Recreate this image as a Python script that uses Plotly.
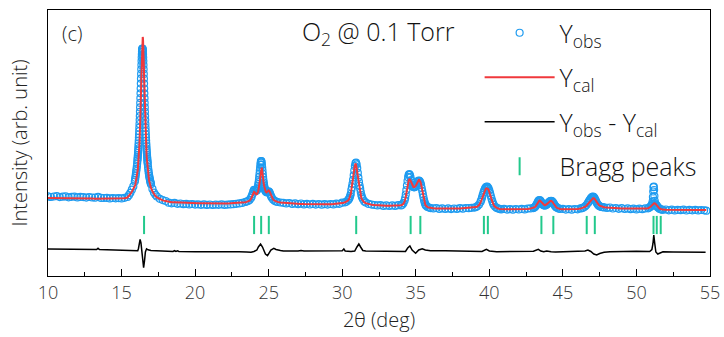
import plotly.graph_objects as go

# ---------------- data ----------------
two_theta = [
    # 10.0 - 15.6
    10.0, 10.2, 10.4, 10.6, 10.8, 11.0, 11.2, 11.4, 11.6, 11.8,
    12.0, 12.2, 12.4, 12.6, 12.8, 13.0, 13.2, 13.4, 13.6, 13.8,
    14.0, 14.2, 14.4, 14.6, 14.8, 15.0, 15.2, 15.4, 15.5, 15.6,
    # 15.7 - 16.06
    15.7, 15.8, 15.90, 15.92, 15.94, 15.96, 15.98, 16.00, 16.02, 16.04, 16.06,
    # 16.08 - 16.78
    16.08, 16.09, 16.10, 16.11, 16.12, 16.13, 16.14, 16.15, 16.16, 16.17,
    16.18, 16.19, 16.20, 16.21, 16.22, 16.23, 16.24, 16.25, 16.26, 16.27,
    16.28, 16.29, 16.30, 16.31, 16.32, 16.33, 16.34, 16.35, 16.36, 16.37,
    16.38, 16.39, 16.40, 16.41, 16.42, 16.43, 16.44, 16.45, 16.46, 16.47,
    16.48, 16.49, 16.50, 16.51, 16.52, 16.53, 16.54, 16.55, 16.56, 16.57,
    16.58, 16.59, 16.60, 16.61, 16.62, 16.63, 16.64, 16.65, 16.66, 16.67,
    16.68, 16.69, 16.70, 16.71, 16.72, 16.73, 16.74, 16.75, 16.76, 16.77,
    16.78,
    # 16.80 - 18.0
    16.80, 16.82, 16.84, 16.86, 16.88, 16.90, 16.92, 16.94, 16.96, 16.98,
    17.00, 17.1, 17.2, 17.3, 17.4, 17.6, 17.8, 18.0,
    # 18.2 - 23.2
    18.2, 18.4, 18.6, 18.8, 19.0, 19.2, 19.4, 19.6, 19.8, 20.0,
    20.2, 20.4, 20.6, 20.8, 21.0, 21.2, 21.4, 21.6, 21.8, 22.0,
    22.2, 22.4, 22.6, 22.8, 23.0, 23.2,
    # 23.4 - 26.0
    23.40, 23.50, 23.60, 23.70, 23.80, 23.85, 23.90, 23.95, 24.00, 24.05,
    24.10, 24.15, 24.20,
    24.22, 24.24, 24.26, 24.28, 24.30, 24.32, 24.34, 24.36, 24.38, 24.40,
    24.42, 24.44, 24.46, 24.48, 24.50, 24.52, 24.54, 24.56, 24.58, 24.60,
    24.62, 24.64, 24.66, 24.68, 24.70, 24.72, 24.74, 24.76, 24.78, 24.80,
    24.85, 24.90, 24.95, 25.00, 25.05, 25.10, 25.15, 25.20, 25.30, 25.40,
    25.50, 25.60, 25.80, 26.00,
    # 26.2 - 30.0
    26.2, 26.4, 26.6, 26.8, 27.0, 27.2, 27.4, 27.6, 27.8, 28.0,
    28.2, 28.4, 28.6, 28.8, 29.0, 29.2, 29.4, 29.6, 29.8, 30.0,
    # 30.2 - 32.4
    30.20, 30.30, 30.40, 30.46,
    30.50, 30.54, 30.58, 30.62, 30.66, 30.70, 30.74, 30.78, 30.82, 30.86,
    30.90, 30.94, 30.98, 31.02, 31.06, 31.10, 31.14, 31.18, 31.22, 31.26,
    31.30, 31.34,
    31.40, 31.50, 31.60, 31.80, 32.00, 32.20, 32.40,
    # 32.6 - 33.8
    32.6, 32.8, 33.0, 33.2, 33.4, 33.6, 33.8,
    # 34.0 - 36.2
    34.00, 34.08, 34.16,
    34.24, 34.28, 34.32, 34.36, 34.40, 34.44, 34.48, 34.52, 34.56, 34.60,
    34.64, 34.68, 34.72, 34.76, 34.80, 34.84, 34.88, 34.92, 34.96, 35.00,
    35.04, 35.08, 35.12, 35.16, 35.20, 35.24, 35.28, 35.32, 35.36, 35.40,
    35.44, 35.48, 35.52, 35.56, 35.60, 35.64, 35.68, 35.72,
    35.80, 35.90, 36.00, 36.20,
    # 36.4 - 38.8
    36.4, 36.6, 36.8, 37.0, 37.2, 37.4, 37.6, 37.8, 38.0, 38.2, 38.4, 38.6, 38.8,
    # 39.0 - 40.7
    39.00, 39.10, 39.20, 39.30, 39.40, 39.45, 39.50, 39.55, 39.60, 39.65,
    39.70, 39.75, 39.80, 39.85, 39.90, 39.95, 40.00, 40.05, 40.10, 40.15,
    40.20, 40.25, 40.30, 40.40, 40.50, 40.60, 40.70,
    # 40.8 - 42.8
    40.8, 41.0, 41.2, 41.4, 41.6, 41.8, 42.0, 42.2, 42.4, 42.6, 42.8,
    # 43.0 - 44.8
    43.00, 43.05, 43.10, 43.15, 43.20, 43.25, 43.30, 43.35, 43.40, 43.45,
    43.50, 43.55, 43.60, 43.65, 43.70, 43.75, 43.80, 43.85, 43.90, 43.95,
    44.00, 44.05, 44.10, 44.15, 44.20, 44.25, 44.30, 44.35, 44.40, 44.45,
    44.50, 44.55, 44.60, 44.70, 44.80,
    # 45.0 - 46.2
    45.0, 45.2, 45.4, 45.6, 45.8, 46.0, 46.2,
    # 46.3 - 47.8
    46.30, 46.40, 46.50, 46.60, 46.70, 46.75, 46.80, 46.85, 46.90, 46.95,
    47.00, 47.05, 47.10, 47.15, 47.20, 47.25, 47.30, 47.35, 47.40, 47.45,
    47.50, 47.60, 47.70, 47.80,
    # 48.0 - 50.6
    48.0, 48.2, 48.4, 48.6, 48.8, 49.0, 49.2, 49.4, 49.6, 49.8, 50.0, 50.2, 50.4, 50.6,
    # 50.8 - 51.8
    50.80, 50.88, 50.96, 51.00, 51.04, 51.08, 51.10, 51.12, 51.14, 51.16,
    51.18, 51.20, 51.22, 51.24, 51.28, 51.32, 51.36, 51.40, 51.44, 51.48,
    51.56, 51.64, 51.72, 51.80,
    # 52.0 - 54.75
    52.0, 52.2, 52.4, 52.6, 52.8, 53.0, 53.2, 53.4, 53.6, 53.8,
    54.0, 54.2, 54.4, 54.6, 54.75,
]

y_obs = [
    796, 790, 795, 799, 789, 793, 796, 787, 792, 794,
    786, 791, 789, 784, 790, 785, 783, 792, 781, 780,
    782, 776, 780, 777, 779, 776, 782, 790, 808, 832,
    863, 896, 945, 962, 982, 1004, 1027, 1049, 1072, 1097, 1126,
    1153, 1171, 1189, 1209, 1230, 1252, 1275, 1300, 1326, 1354,
    1384, 1415, 1448, 1483, 1520, 1559, 1599, 1642, 1686, 1731,
    1778, 1827, 1875, 1924, 1973, 2021, 2067, 2110, 2150, 2186,
    2217, 2242, 2260, 2271, 2275, 2271, 2260, 2242, 2217, 2186,
    2150, 2110, 2067, 2021, 1973, 1924, 1875, 1827, 1778, 1731,
    1686, 1642, 1599, 1559, 1520, 1483, 1448, 1415, 1384, 1354,
    1326, 1300, 1275, 1252, 1230, 1209, 1189, 1171, 1153, 1137,
    1121,
    1090, 1064, 1041, 1020, 1001, 984, 969, 955, 942, 930,
    918, 871, 834, 812, 795, 772, 759, 750,
    733, 727, 731, 722, 725, 718, 722, 716, 720, 714,
    717, 712, 716, 711, 715, 710, 714, 712, 717, 711,
    714, 716, 718, 722, 726, 731,
    740, 744, 750, 761, 781, 798, 820, 845, 861, 860,
    852, 849, 857,
    865, 874, 885, 900, 918, 939, 963, 991, 1021, 1053,
    1085, 1114, 1136, 1149, 1149, 1136, 1114, 1085, 1053, 1020,
    989, 961, 937, 916, 898, 882, 870, 860, 852, 845,
    837, 838, 843, 847, 839, 822, 802, 786, 764, 752,
    745, 740, 735, 732,
    726, 730, 721, 726, 718, 725, 716, 722, 715, 721,
    714, 720, 713, 719, 714, 720, 716, 723, 722, 733,
    737, 744, 758, 770,
    782, 799, 820, 860, 888, 922, 962, 1007, 1055, 1098,
    1127, 1133, 1115, 1078, 1031, 984, 941, 904, 873, 839,
    809, 789,
    769, 746, 734, 721, 714, 710, 706,
    709, 701, 706, 700, 706, 701, 708,
    706, 713, 728,
    755, 780, 815, 858, 905, 950, 988, 1012, 1020, 1010,
    988, 960, 933, 912, 898, 890, 887, 888, 892, 900,
    910, 924, 938, 948, 953, 952, 945, 930, 908, 880,
    850, 818, 788, 760, 738, 720, 708, 699,
    690, 684, 679, 676,
    680, 671, 677, 670, 676, 669, 675, 671, 678, 673, 680, 678, 682,
    684, 690, 699, 715, 741, 760, 783, 809, 833, 855,
    872, 884, 891, 893, 887, 874, 854, 829, 801, 773,
    748, 727, 711, 692, 681, 675, 671,
    666, 671, 664, 669, 663, 670, 665, 671, 666, 674, 676,
    679, 684, 690, 699, 711, 726, 741, 753, 759, 756,
    746, 733, 721, 712, 707, 705, 706, 709, 714, 721,
    729, 737, 744, 749, 751, 749, 742, 731, 718, 706,
    696, 688, 682, 676, 671,
    672, 664, 669, 663, 670, 667, 676,
    678, 685, 695, 710, 729, 741, 753, 765, 776, 785,
    791, 793, 789, 779, 764, 748, 732, 719, 709, 702,
    697, 691, 688, 686,
    681, 685, 675, 680, 672, 678, 670, 676, 668, 674, 666, 673, 668, 676,
    677, 684, 693, 701, 709, 722, 745, 790, 845, 888,
    893, 860, 800, 752, 725, 714, 706, 698, 690, 683,
    673, 667, 664, 662,
    665, 657, 663, 656, 662, 658, 664, 655, 661, 657,
    662, 656, 660, 657, 653,
]

y_cal = [
    781, 781, 780, 780, 779, 779, 778, 778, 777, 777,
    776, 776, 775, 775, 774, 774, 773, 773, 772, 772,
    771, 771, 771, 771, 772, 774, 777, 785, 800, 820,
    843, 866, 895, 905, 916, 930, 946, 960, 976, 994, 1015,
    1033, 1046, 1060, 1074, 1090, 1107, 1125, 1144, 1165, 1187,
    1211, 1237, 1265, 1295, 1327, 1362, 1399, 1439, 1482, 1528,
    1578, 1630, 1685, 1744, 1805, 1868, 1934, 1999, 2065, 2129,
    2190, 2245, 2294, 2335, 2365, 2384, 2390, 2384, 2365, 2335,
    2294, 2245, 2190, 2129, 2065, 1999, 1934, 1868, 1805, 1744,
    1685, 1630, 1578, 1528, 1482, 1439, 1399, 1362, 1327, 1295,
    1265, 1237, 1211, 1187, 1165, 1144, 1125, 1107, 1090, 1074,
    1060,
    1030, 1007, 986, 968, 951, 937, 923, 911, 900, 890,
    880, 846, 819, 800, 786, 767, 756, 749,
    740, 738, 737, 735, 734, 733, 732, 731, 730, 729,
    728, 728, 727, 727, 726, 726, 726, 726, 726, 726,
    726, 727, 728, 730, 732, 735,
    738, 741, 746, 754, 770, 784, 804, 826, 840, 836,
    824, 817, 819,
    823, 828, 835, 844, 854, 868, 884, 903, 925, 950,
    977, 1007, 1035, 1059, 1076, 1082, 1077, 1060, 1037, 1009,
    981, 954, 930, 908, 891, 876, 864, 854, 847, 842,
    836, 841, 850, 856, 850, 831, 809, 790, 766, 753,
    746, 741, 736, 733,
    730, 727, 725, 723, 722, 721, 720, 719, 719, 718,
    718, 717, 717, 717, 717, 718, 719, 721, 724, 729,
    737, 743, 756, 767,
    779, 796, 819, 860, 891, 929, 974, 1024, 1073, 1112,
    1126, 1112, 1073, 1024, 974, 929, 891, 860, 819, 796,
    779, 767,
    751, 736, 729, 719, 713, 710, 707,
    705, 704, 703, 703, 703, 704, 706,
    708, 712, 722,
    743, 762, 790, 826, 866, 905, 936, 957, 967, 966,
    955, 938, 920, 905, 895, 890, 889, 890, 895, 903,
    915, 930, 945, 955, 960, 961, 955, 940, 917, 887,
    853, 818, 785, 756, 733, 716, 705, 697,
    689, 684, 680, 677,
    676, 675, 675, 674, 674, 674, 674, 675, 676, 677, 679, 681, 683,
    685, 689, 696, 710, 735, 753, 775, 800, 823, 843,
    858, 869, 876, 877, 872, 860, 842, 818, 792, 766,
    742, 723, 708, 690, 680, 674, 671,
    669, 668, 667, 667, 667, 667, 667, 668, 669, 671, 675,
    680, 683, 688, 696, 707, 721, 735, 747, 753, 752,
    744, 733, 722, 714, 709, 707, 708, 711, 716, 723,
    731, 739, 746, 750, 751, 748, 740, 728, 715, 703,
    693, 686, 681, 675, 671,
    668, 667, 667, 667, 668, 670, 674,
    678, 683, 691, 703, 719, 729, 740, 751, 761, 769,
    775, 778, 777, 772, 763, 751, 738, 726, 716, 709,
    703, 696, 691, 688,
    684, 681, 679, 677, 676, 675, 674, 673, 672, 671, 670, 670, 671, 674,
    678, 683, 692, 699, 707, 715, 718, 721, 723, 725,
    726, 727, 727, 727, 724, 718, 710, 701, 692, 685,
    676, 670, 666, 664,
    662, 661, 660, 660, 660, 660, 660, 659, 659, 659,
    659, 659, 659, 659, 659,
]

diff_x = [
    10.0, 11.0, 12.0, 13.0, 13.3, 13.4, 13.5, 14.0, 15.0, 15.5,
    15.8, 16.0, 16.1, 16.15, 16.2, 16.26, 16.32, 16.38, 16.44, 16.5,
    16.56, 16.62, 16.7, 16.8, 17.0, 17.5, 18.0, 18.5, 18.6, 18.7,
    18.8, 18.9, 20.0, 21.0, 21.7, 21.8, 21.9, 23.0, 23.5, 23.8,
    24.0, 24.2, 24.3, 24.45, 24.58, 24.68, 24.78, 24.92, 25.05, 25.15,
    25.35, 25.5, 25.8, 26.0, 27.0, 27.2, 27.4, 29.0, 30.0, 30.11,
    30.2, 30.6, 30.85, 31.0, 31.13, 31.25, 31.4, 31.6, 34.0, 34.3,
    34.45, 34.6, 34.75, 34.99, 35.2, 35.44, 35.65, 36.0, 37.0, 38.0,
    39.0, 39.5, 39.8, 40.0, 40.5, 42.0, 43.0, 43.33, 43.5, 43.7,
    43.9, 44.2, 44.5, 45.0, 46.0, 46.5, 46.7, 46.9, 47.1, 47.3,
    47.5, 47.8, 48.2, 49.0, 50.0, 50.9, 51.05, 51.12, 51.18, 51.24,
    51.32, 51.45, 51.6, 51.8, 52.5, 53.5, 54.7,
]
diff_y = [
    270, 268, 267, 265, 265, 277, 265, 262, 257, 255,
    250, 245, 252, 275, 320, 367, 330, 230, 130, 83,
    150, 240, 272, 262, 255, 250, 247, 245, 253, 246,
    252, 245, 243, 243, 243, 250, 243, 243, 240, 237,
    245, 260, 290, 320, 290, 250, 220, 203, 230, 260,
    277, 265, 255, 250, 250, 255, 250, 250, 253, 270,
    250, 245, 250, 290, 320, 290, 255, 250, 250, 245,
    280, 300, 260, 227, 260, 273, 260, 253, 253, 250,
    247, 245, 267, 250, 243, 245, 247, 267, 250, 243,
    250, 243, 240, 243, 245, 250, 260, 245, 220, 210,
    225, 237, 243, 247, 247, 245, 265, 320, 410, 330,
    240, 220, 232, 243, 240, 237, 237,
]

bragg_pos = [16.53, 24.01, 24.49, 25.01, 30.95, 34.65, 35.31, 39.63, 39.90,
             43.54, 44.35, 46.62, 47.17, 51.16, 51.38, 51.65]
bragg_level = 510

x_range = [10, 55]
y_range = [0, 2660]
x_ticks = [10, 15, 20, 25, 30, 35, 40, 45, 50, 55]

assert len(two_theta) == len(y_obs) == len(y_cal), (len(two_theta), len(y_obs), len(y_cal))
assert len(diff_x) == len(diff_y), (len(diff_x), len(diff_y))

# ---------------- figure ----------------
FONT = "Open Sans"
BLUE = "#1E9BF0"
RED = "#F0393C"
GREEN = "#22C98C"

fig = go.Figure()
fig.add_trace(go.Scatter(
    x=two_theta, y=y_obs, mode="markers", name="Y<sub>obs</sub>", legendgroup="a",
    marker=dict(symbol="circle-open", size=7, color=BLUE, line=dict(width=1.2, color=BLUE)),
))
fig.add_trace(go.Scatter(
    x=two_theta, y=y_cal, mode="lines", name="Y<sub>cal</sub>", legendgroup="b",
    line=dict(color=RED, width=2),
))
fig.add_trace(go.Scatter(
    x=diff_x, y=diff_y, mode="lines", name="Y<sub>obs</sub> - Y<sub>cal</sub>", legendgroup="c",
    line=dict(color="black", width=1.5),
))
fig.add_trace(go.Scatter(
    x=bragg_pos, y=[bragg_level] * len(bragg_pos), mode="markers", name="Bragg peaks",
    legendgroup="d",
    marker=dict(symbol="line-ns", size=13, color=GREEN, line=dict(width=2, color=GREEN)),
))

fig.update_layout(
    width=724, height=337, autosize=False,
    margin=dict(l=48, r=14, t=10, b=61, autoexpand=False),
    paper_bgcolor="white", plot_bgcolor="white",
    font=dict(family=FONT, color="#222", size=18, weight=300),
    legend=dict(
        x=0.652, y=1.0, xanchor="left", yanchor="top",
        font=dict(family=FONT, size=25, color="#111", weight=300),
        itemwidth=70, bgcolor="rgba(0,0,0,0)",
        traceorder="grouped", tracegroupgap=9,
    ),
    annotations=[
        dict(text="(c)", xref="paper", yref="paper", x=0.018, y=0.91,
             xanchor="left", yanchor="middle", showarrow=False,
             font=dict(family=FONT, size=20, color="#222", weight=300)),
        dict(text="O<sub>2</sub> @ 0.1 Torr", xref="paper", yref="paper", x=0.38, y=0.915,
             xanchor="left", yanchor="middle", showarrow=False,
             font=dict(family=FONT, size=25, color="#111", weight=300)),
    ],
)
fig.update_xaxes(
    range=x_range, tickmode="array", tickvals=x_ticks, automargin=False,
    ticks="inside", ticklen=7, tickwidth=1.3, tickcolor="black",
    minor=dict(dtick=2.5, tick0=10, ticks="inside", ticklen=4, tickwidth=1.3, tickcolor="black"),
    showline=True, linecolor="black", linewidth=1.3, mirror=True,
    showgrid=False, zeroline=False,
    tickfont=dict(family=FONT, size=18, color="#333", weight=300),
    title=dict(text="2θ (deg)", font=dict(family=FONT, size=20, color="#222", weight=300), standoff=10),
)
fig.update_yaxes(
    range=y_range, showticklabels=False, ticks="", automargin=False,
    showline=True, linecolor="black", linewidth=1.3, mirror=True,
    showgrid=False, zeroline=False,
    title=dict(text="Intensity (arb. unit)", font=dict(family=FONT, size=20, color="#222", weight=300), standoff=13),
)

fig.write_html(
    "out.html",
    config={"displayModeBar": False},
    post_script="document.body.style.margin='0';document.body.style.overflow='hidden';",
)
